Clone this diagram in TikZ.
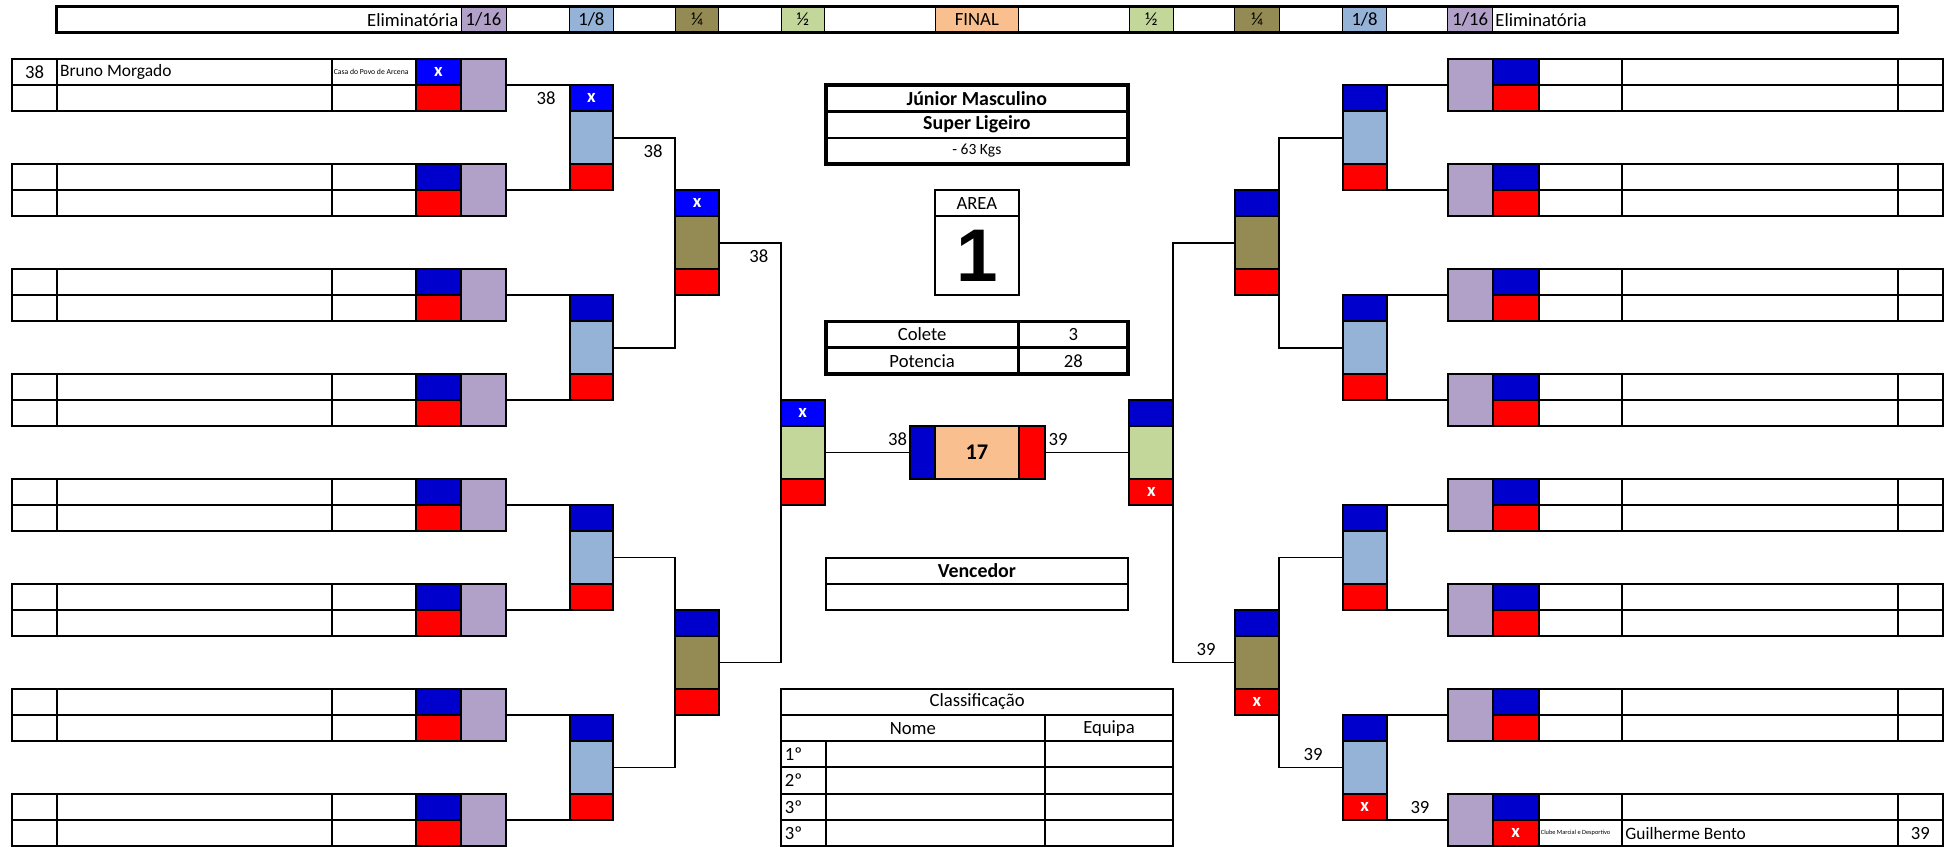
\documentclass[tikz,border=0pt]{standalone}
\usepackage{fontspec}
\setmainfont{Carlito}
\newfontfamily\arialf{Liberation Sans}
\definecolor{bdk}{RGB}{0,0,204}
\definecolor{bx}{RGB}{0,0,255}
\definecolor{rr}{RGB}{255,0,0}
\definecolor{pu}{RGB}{177,160,199}
\definecolor{lbl}{RGB}{149,179,215}
\definecolor{ol}{RGB}{148,138,84}
\definecolor{lgr}{RGB}{196,215,155}
\definecolor{pe}{RGB}{250,191,143}
\newcommand\fs{\fontsize{15}{17}\selectfont}
\newcommand\fsn{\fontsize{14}{16}\selectfont}
\newcommand\fsb{\fontsize{16}{18}\selectfont\bfseries}
\newcommand\fsm{\fontsize{12.5}{14}\selectfont}
\newcommand\cellbox[7]{%
  \pgfmathsetmacro\cellW{(#4)-(#2)}%
  \pgfmathsetmacro\cellH{21.1*((#5)-(#3))}%
  \pgfmathsetmacro\cellY{47.4+21.1*(#3)}%
  \node[cellsty,#6,minimum width=\cellW pt,minimum height=\cellH pt] (#1) at (#2,\cellY) {#7};}
\begin{document}
\begin{tikzpicture}[x=1pt,y=-1pt,
  cellsty/.style={draw=black,line width=1.6pt,anchor=north west,inner sep=0pt,outer sep=0pt,font=\fs},
  xmark/.style={text=white,font=\fs\bfseries},
  txt/.style={inner sep=0pt,font=\fs},
  conn/.style={line width=1.5pt},
  thickline/.style={line width=2.8pt},
  hcell/.style={line width=0.8pt}]
\useasboundingbox (0,0) rectangle (1568,681);

% ---------- header ----------
\cellbox{Hc16L}{370.7}{-2}{406.9}{-1}{fill=pu,hcell}{1/16}
\cellbox{Hc8L}{458}{-2}{493}{-1}{fill=lbl,hcell}{1/8}
\cellbox{Hc4L}{543}{-2}{578}{-1}{fill=ol,hcell}{¼}
\cellbox{Hc2L}{628}{-2}{663}{-1}{fill=lgr,hcell}{½}
\cellbox{HcF}{752}{-2}{819}{-1}{fill=pe,hcell}{FINAL}
\cellbox{Hc2R}{908}{-2}{943.5}{-1}{fill=lgr,hcell}{½}
\cellbox{Hc4R}{993}{-2}{1028.5}{-1}{fill=ol,hcell}{¼}
\cellbox{Hc8R}{1079.5}{-2}{1115}{-1}{fill=lbl,hcell}{1/8}
\cellbox{Hc16R}{1164.1}{-2}{1200.3}{-1}{fill=pu,hcell}{1/16}
\cellbox{H}{45.6}{-2}{1526.3}{-1}{line width=2pt}{}
\node[txt,anchor=east] (hE1) at ([xshift=-2pt]Hc16L.west) {Eliminatória};
\node[txt,anchor=west] (hE2) at ([xshift=2pt]Hc16R.east) {Eliminatória};

% ---------- left first round ----------
\foreach \k in {0,...,7}{%
  \pgfmathtruncatemacro\na{4*\k}%
  \pgfmathtruncatemacro\nb{4*\k+1}%
  \pgfmathtruncatemacro\nc{4*\k+2}%
  \ifnum\k=0 \def\Bcol{bx}\def\Btxt{x}\else\def\Bcol{bdk}\def\Btxt{}\fi
  \cellbox{Lna\k}{9.9}{\na}{45.6}{\nb}{}{}%
  \cellbox{Lnb\k}{9.9}{\nb}{45.6}{\nc}{}{}%
  \cellbox{Lma\k}{45.6}{\na}{267.2}{\nb}{}{}%
  \cellbox{Lmb\k}{45.6}{\nb}{267.2}{\nc}{}{}%
  \cellbox{Lca\k}{267.2}{\na}{334.5}{\nb}{}{}%
  \cellbox{Lcb\k}{267.2}{\nb}{334.5}{\nc}{}{}%
  \cellbox{Lb\k}{334.5}{\na}{370.7}{\nb}{fill=\Bcol,xmark}{\Btxt}%
  \cellbox{Lr\k}{334.5}{\nb}{370.7}{\nc}{fill=rr}{}%
  \cellbox{Lp\k}{370.7}{\na}{406.9}{\nc}{fill=pu}{}%
}
\node[txt] (t38n) at (Lna0) {38};
\node[txt,anchor=west,font=\fsn] (tBM) at ([xshift=2.5pt]Lma0.west) {Bruno Morgado};
\node[txt,anchor=west,font=\fontsize{6.2}{7}\selectfont] (tCP) at ([xshift=1pt]Lca0.west) {Casa do Povo de Arcena};

% ---------- right first round ----------
\foreach \k in {0,...,7}{%
  \pgfmathtruncatemacro\na{4*\k}%
  \pgfmathtruncatemacro\nb{4*\k+1}%
  \pgfmathtruncatemacro\nc{4*\k+2}%
  \ifnum\k=7 \def\Rtxt{x}\else\def\Rtxt{}\fi
  \cellbox{Rp\k}{1164.1}{\na}{1200.3}{\nc}{fill=pu}{}%
  \cellbox{Rb\k}{1200.3}{\na}{1237.3}{\nb}{fill=bdk}{}%
  \cellbox{Rr\k}{1200.3}{\nb}{1237.3}{\nc}{fill=rr,xmark}{\Rtxt}%
  \cellbox{Rca\k}{1237.3}{\na}{1304.3}{\nb}{}{}%
  \cellbox{Rcb\k}{1237.3}{\nb}{1304.3}{\nc}{}{}%
  \cellbox{Rma\k}{1304.3}{\na}{1526.3}{\nb}{}{}%
  \cellbox{Rmb\k}{1304.3}{\nb}{1526.3}{\nc}{}{}%
  \cellbox{Rna\k}{1526.3}{\na}{1562}{\nb}{}{}%
  \cellbox{Rnb\k}{1526.3}{\nb}{1562}{\nc}{}{}%
}
\node[txt] (t39n) at (Rnb7) {39};
\node[txt,anchor=west,font=\fsn] (tGB) at ([xshift=2.5pt]Rmb7.west) {Guilherme Bento};
\node[txt,anchor=west,font=\fontsize{5.1}{6}\selectfont] (tCM) at ([xshift=1.5pt]Rcb7.west) {Clube Marcial e Desportivo};

% ---------- 1/8 ----------
\foreach \j in {0,...,3}{%
  \pgfmathtruncatemacro\na{8*\j+1}%
  \pgfmathtruncatemacro\nb{8*\j+2}%
  \pgfmathtruncatemacro\nc{8*\j+4}%
  \pgfmathtruncatemacro\nd{8*\j+5}%
  \ifnum\j=0 \def\Bcol{bx}\def\Btxt{x}\else\def\Bcol{bdk}\def\Btxt{}\fi
  \ifnum\j=3 \def\Rtxt{x}\else\def\Rtxt{}\fi
  \cellbox{L8b\j}{458}{\na}{493}{\nb}{fill=\Bcol,xmark}{\Btxt}%
  \cellbox{L8c\j}{458}{\nb}{493}{\nc}{fill=lbl}{}%
  \cellbox{L8r\j}{458}{\nc}{493}{\nd}{fill=rr}{}%
  \cellbox{R8b\j}{1079.5}{\na}{1115}{\nb}{fill=bdk}{}%
  \cellbox{R8c\j}{1079.5}{\nb}{1115}{\nc}{fill=lbl}{}%
  \cellbox{R8r\j}{1079.5}{\nc}{1115}{\nd}{fill=rr,xmark}{\Rtxt}%
}

% ---------- 1/4 ----------
\foreach \i in {0,1}{%
  \pgfmathtruncatemacro\na{16*\i+5}%
  \pgfmathtruncatemacro\nb{16*\i+6}%
  \pgfmathtruncatemacro\nc{16*\i+8}%
  \pgfmathtruncatemacro\nd{16*\i+9}%
  \ifnum\i=0 \def\Bcol{bx}\def\Btxt{x}\else\def\Bcol{bdk}\def\Btxt{}\fi
  \ifnum\i=1 \def\Rtxt{x}\else\def\Rtxt{}\fi
  \cellbox{L4b\i}{543}{\na}{578}{\nb}{fill=\Bcol,xmark}{\Btxt}%
  \cellbox{L4c\i}{543}{\nb}{578}{\nc}{fill=ol}{}%
  \cellbox{L4r\i}{543}{\nc}{578}{\nd}{fill=rr}{}%
  \cellbox{R4b\i}{993}{\na}{1028.5}{\nb}{fill=bdk}{}%
  \cellbox{R4c\i}{993}{\nb}{1028.5}{\nc}{fill=ol}{}%
  \cellbox{R4r\i}{993}{\nc}{1028.5}{\nd}{fill=rr,xmark}{\Rtxt}%
}

% ---------- 1/2 ----------
\cellbox{L2b}{628}{13}{663}{14}{fill=bx,xmark}{x}
\cellbox{L2c}{628}{14}{663}{16}{fill=lgr}{}
\cellbox{L2r}{628}{16}{663}{17}{fill=rr}{}
\cellbox{R2b}{908}{13}{943.5}{14}{fill=bdk}{}
\cellbox{R2c}{908}{14}{943.5}{16}{fill=lgr}{}
\cellbox{R2r}{908}{16}{943.5}{17}{fill=rr,xmark}{x}

% ---------- final ----------
\cellbox{Fb}{732}{14}{752}{16}{fill=bdk}{}
\cellbox{Fc}{752}{14}{819}{16}{fill=pe,font=\fontsize{18}{20}\selectfont\bfseries}{17}
\cellbox{Fr}{819}{14}{840}{16}{fill=rr}{}

% ---------- connectors ----------
\foreach \k in {0,...,7}{%
  \pgfmathtruncatemacro\j{floor(\k/2)}%
  \ifodd\k
    \draw[conn] (Lp\k.east) -- (L8r\j.south west);
    \draw[conn] (Rp\k.west) -- (R8r\j.south east);
  \else
    \draw[conn] (Lp\k.east) -- (L8b\j.north west);
    \draw[conn] (Rp\k.west) -- (R8b\j.north east);
  \fi
}
\foreach \j in {0,...,3}{%
  \pgfmathtruncatemacro\i{floor(\j/2)}%
  \ifodd\j
    \draw[conn] (L8c\j.east) -| (L4r\i.south west);
    \draw[conn] (R8c\j.west) -| (R4r\i.south east);
  \else
    \draw[conn] (L8c\j.east) -| (L4b\i.north west);
    \draw[conn] (R8c\j.west) -| (R4b\i.north east);
  \fi
}
\draw[conn] (L4c0.east) -| (L2b.north west);
\draw[conn] (L4c1.east) -| (L2r.south west);
\draw[conn] (R4c0.west) -| (R2b.north east);
\draw[conn] (R4c1.west) -| (R2r.south east);
\draw[conn] (L2c.east) -- (Fb.west);
\draw[conn] (R2c.west) -- (Fr.east);

% ---------- score labels ----------
\node[txt,anchor=east] (l1) at (447,79) {38};
\node[txt,anchor=east] (l2) at (533,121.3) {38};
\node[txt,anchor=east] (l3) at (618,205.7) {38};
\node[txt,anchor=east] (l4) at (729.5,353.4) {38};
\node[txt,anchor=west] (r4) at (843,353.4) {39};
\node[txt,anchor=west] (r3) at (962,522.3) {39};
\node[txt,anchor=west] (r2) at (1048,606.7) {39};
\node[txt,anchor=west] (r1) at (1134,649) {39};

% ---------- category table ----------
\cellbox{J1}{664}{1}{907}{2}{font=\fsb}{Júnior Masculino}
\cellbox{J2}{664}{2}{907}{3}{font=\fsb}{Super Ligeiro}
\cellbox{J3}{664}{3}{907}{4}{font=\fsm}{- 63 Kgs}
\draw[thickline] (J1.north west) rectangle (J3.south east);
\draw[thickline] (J1.south west) -- (J1.south east);

% ---------- area ----------
\cellbox{A1}{752}{5}{819}{6}{}{AREA}
\cellbox{A2}{752}{6}{819}{9}{font=\arialf\fontsize{60}{62}\selectfont\bfseries}{1}

% ---------- colete ----------
\cellbox{C1}{664}{10}{819}{11}{}{Colete}
\cellbox{C2}{819}{10}{907}{11}{}{3}
\cellbox{C3}{664}{11}{819}{12}{}{Potencia}
\cellbox{C4}{819}{11}{907}{12}{}{28}
\draw[line width=2pt] (C1.south west) -- (C4.north east);
\draw[thickline] (C1.north west) rectangle (C4.south east);
\draw[thickline] (C2.north west) -- (C4.south west);

% ---------- vencedor ----------
\cellbox{V1}{664}{19}{907}{20}{font=\fsb}{Vencedor}
\cellbox{V2}{664}{20}{907}{21}{}{}

% ---------- classificacao ----------
\cellbox{K0}{628}{24}{943.5}{25}{}{Classificação}
\cellbox{K1}{628}{25}{840}{26}{}{Nome}
\cellbox{K2}{840}{25}{943.5}{26}{}{Equipa}
\foreach \m/\lab in {26/1º,27/2º,28/3º,29/3º}{%
  \pgfmathtruncatemacro\mb{\m+1}%
  \cellbox{Kp\m}{628}{\m}{664}{\mb}{}{}%
  \cellbox{Kn\m}{664}{\m}{840}{\mb}{}{}%
  \cellbox{Ke\m}{840}{\m}{943.5}{\mb}{}{}%
  \node[txt,anchor=west] (Kl\m) at ([xshift=3pt]Kp\m.west) {\lab};
}
\end{tikzpicture}
\end{document}
